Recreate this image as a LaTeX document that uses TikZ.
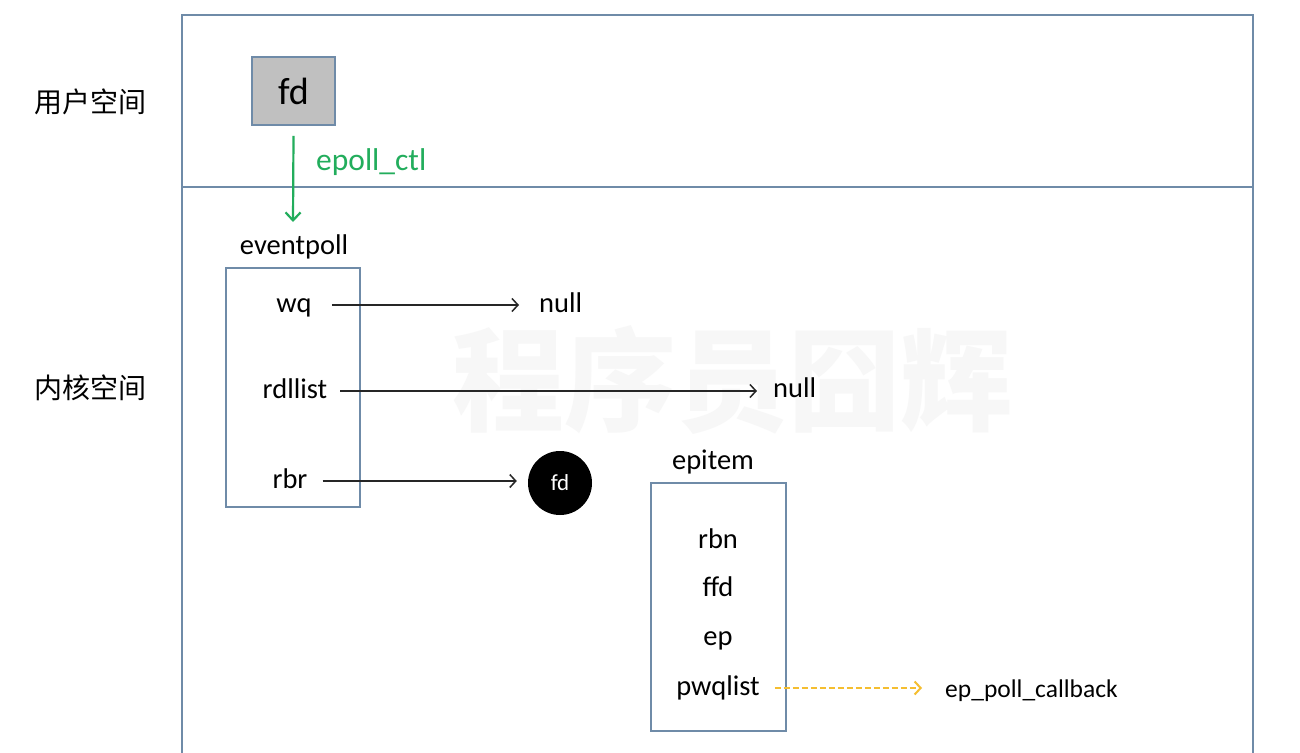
\documentclass[tikz,border=0pt]{standalone}
\usepackage{fontspec}
\setmainfont{Carlito}
\newfontfamily\cjk{Noto Sans CJK SC}
\usetikzlibrary{arrows.meta}
\definecolor{frame}{HTML}{6F8BA8}
\definecolor{boxgray}{HTML}{C0C0C0}
\definecolor{ctlgreen}{HTML}{22AD5C}
\definecolor{cbyellow}{HTML}{F5BE30}
\definecolor{mark}{HTML}{F7F7F7}
\tikzset{
  lbl/.style={inner sep=0pt, text height=20pt, text depth=6pt, font=\fontsize{28.5}{30}\selectfont},
  zone/.style={inner sep=0pt, font=\cjk\fontsize{28}{30}\selectfont},
  structbox/.style={draw=frame, line width=1.6pt},
  ptr/.style={draw=black!85, line width=1.5pt, -{Straight Barb[length=6pt,width=13pt,line width=1.5pt]}},
}
\begin{document}
\begin{tikzpicture}[x=1pt,y=-1pt]
\useasboundingbox (0,0) rectangle (1300,752);
\fill[white] (0,0) rectangle (1300,752);

% faint background mark
\node[inner sep=0pt, text=mark, font=\cjk\bfseries\fontsize{112}{112}\selectfont] (wm) at (732,380) {程序员囧辉};

% user/kernel frame
\draw[frame, line width=2pt] (182,770) -- (182,15) -- (1253,15) -- (1253,770);
\draw[frame, line width=2pt] (182,187) -- (1253,187);
\node[zone] (user) at (90,102) {用户空间};
\node[zone] (kernel) at (90,388) {内核空间};

% user-space descriptor
\node[draw=frame, line width=1.6pt, fill=boxgray, minimum width=83pt, minimum height=68pt,
      inner sep=0pt, font=\fontsize{38}{40}\selectfont] (ufd) at (293.5,91) {fd};

% eventpoll
\node[lbl] (eplabel) at (294,247) {eventpoll};
\node[structbox, minimum width=134pt, minimum height=239pt, inner sep=0pt] (ep) at (293,387.5) {};
\coordinate (epin) at (293,222);
\draw[ctlgreen, line width=2.2pt, -{Straight Barb[length=8pt,width=15pt,line width=2.2pt]}]
  (ufd.south) ++(0,10) -- (epin);
\node[lbl, text=ctlgreen, anchor=west, font=\fontsize{31.5}{33}\selectfont] (ctl) at (316,163) {epoll\_ctl};

\node[lbl] (wq) at (294,305) {wq};
\node[lbl] (rdl) at (295,391) {rdllist};
\node[lbl] (rbr) at (290,481) {rbr};
\node[lbl, anchor=west] (null1) at (539,305) {null};
\node[lbl, anchor=west] (null2) at (773,390) {null};
\node[circle, fill=black, minimum size=64pt, inner sep=0pt, text=white,
      font=\fontsize{23}{24}\selectfont] (rbfd) at (560,483) {fd};

\draw[ptr, shorten <=20pt, shorten >=20pt] (wq.east) -- (null1.west);
\draw[ptr, shorten <=13pt, shorten >=16pt] (rdl.east) -- (rdl.east -| null2.west);
\draw[ptr, shorten <=15pt, shorten >=11pt] (rbr.east) -- (rbr.east -| rbfd.west);

% epitem
\node[lbl] (itlabel) at (713,462) {epitem};
\node[structbox, minimum width=135pt, minimum height=248pt, inner sep=0pt] (it) at (718.5,607) {};
\node[lbl] (rbn) at (718,541) {rbn};
\node[lbl] (ffd) at (718,589) {ffd};
\node[lbl] (iep) at (718,638) {ep};
\node[lbl] (pwq) at (718,688) {pwqlist};
\node[lbl, anchor=west, font=\fontsize{25.5}{27}\selectfont] (cb) at (945,690) {ep\_poll\_callback};
\draw[cbyellow, line width=2pt, dash pattern=on 6pt off 3pt,
      -{Straight Barb[length=6pt,width=13pt,line width=2pt]}, shorten <=15pt, shorten >=23pt]
  (pwq.east) -- (pwq.east -| cb.west);
\end{tikzpicture}
\end{document}
